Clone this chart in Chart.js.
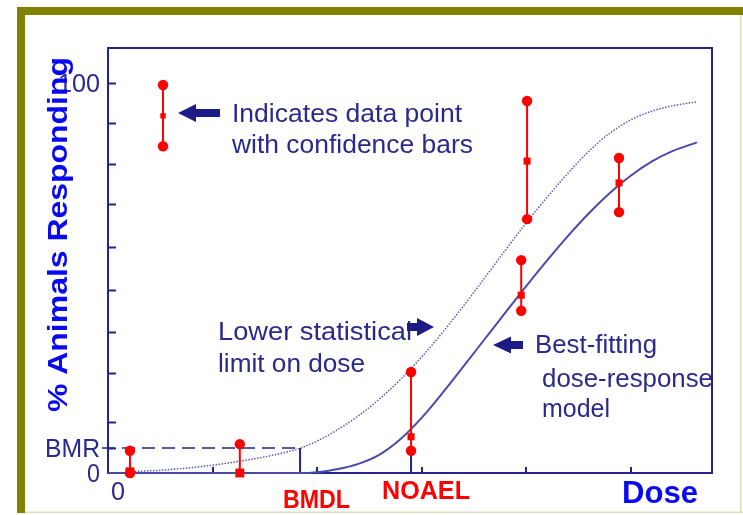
<!DOCTYPE html>
<html>
<head>
<meta charset="utf-8">
<script src="https://cdn.jsdelivr.net/npm/chart.js@4.4.0/dist/chart.umd.min.js"></script>
<style>
  html, body { margin: 0; padding: 0; background: #fff; overflow: hidden; }
  canvas { display: block; }
</style>
</head>
<body>
<canvas id="c" width="743" height="515"></canvas>
<script>
// Observed responses: dose, central estimate and confidence limits (% animals responding)
const doses    = [0.21, 1.26, 2.897, 3.95, 4.006, 4.885];
const respMid  = [0.3, 0, 9.3, 45.6, 80, 74.4];
const respLow  = [0, 0, 5.7, 41.6, 65.1, 66.9];
const respHigh = [5.7, 7.4, 25.9, 54.6, 95.4, 80.8];

// Key sample next to "Indicates data point with confidence bars"
const keyDose = [0.526];
const keyMid  = [91.6];
const keyLow  = [83.8];
const keyHigh = [99.5];

// Best-fitting dose-response model
const fitDose = [0, 1.9, 2.0, 2.2, 2.4, 2.6, 2.8, 3.0, 3.2, 3.4, 3.6, 3.8, 4.0, 4.2, 4.4, 4.6, 4.8, 5.0, 5.2, 5.4, 5.63];
const fitResp = [0, 0, 0.2, 1.0, 2.4, 4.8, 8.8, 14.2, 20.6, 27.4, 34.3, 41.2, 48.0, 54.6, 60.9, 66.7, 71.9, 76.3, 79.9, 82.6, 84.8];

// Lower statistical limit on dose
const limDose = [0.2, 0.6, 1.0, 1.3, 1.6, 1.84, 2.0, 2.2, 2.4, 2.6, 2.8, 3.0, 3.2, 3.4, 3.6, 3.8, 4.0, 4.2, 4.4, 4.6, 4.8, 5.0, 5.2, 5.4, 5.63];
const limResp = [0.3, 0.9, 2.0, 3.2, 4.7, 6.4, 8.2, 11.2, 14.8, 19.1, 24.1, 29.8, 36.1, 42.9, 50.0, 57.2, 64.2, 70.8, 77.0, 82.6, 87.2, 90.6, 92.8, 94.2, 95.2];

// Reference levels
const BMR = 6.4;
const BMDL = 1.836;
const NOAEL = 2.897;

// Axis ticks and labels
const yTicks = [6.4, 13.1, 25.6, 36.2, 46.9, 57.9, 69, 79.2, 89.7, 100];
const yLabelValues = [0, 6.4, 100];
const yLabelTexts  = ['0', 'BMR', '100'];
const xTicks = [1, 2, 3, 4, 5];
const X_MAX = 5.774;
const Y_MAX = 109;

const RED = '#ff0000';
const NAVY = '#24248f';
const TEXT = '#2a2a8c';
const ARROW = '#1c1c86';
const FONT = '"Liberation Sans", Arial, Helvetica, sans-serif';

const pts = (xs, ys) => xs.map((x, i) => ({ x, y: ys[i] }));

function curve(data, color, width, dash, order) {
  return {
    data, showLine: true, borderColor: color, borderWidth: width, borderDash: dash,
    pointRadius: 0, cubicInterpolationMode: 'monotone', fill: false, clip: false, order
  };
}
function bar(x, lo, hi) {
  return {
    data: [{ x, y: lo }, { x, y: hi }], showLine: true, borderColor: RED, borderWidth: 2,
    pointRadius: 0, fill: false, clip: false, order: 2
  };
}

const allDose = doses.concat(keyDose);
const allLow  = respLow.concat(keyLow);
const allMid  = respMid.concat(keyMid);
const allHigh = respHigh.concat(keyHigh);

const circleData = [];
allDose.forEach((d, i) => {
  circleData.push({ x: d, y: allHigh[i] });
  if (allLow[i] < allMid[i]) circleData.push({ x: d, y: allLow[i] });
});
const squareRadius = allDose.map((d, i) => (i < 2 ? 6.3 : (i === allDose.length - 1 ? 3.8 : 5)));

const datasets = [
  {
    data: pts(allDose, allMid), pointStyle: 'rect', pointRadius: squareRadius,
    pointBackgroundColor: RED, pointBorderWidth: 0, showLine: false, clip: false, order: 0
  },
  {
    data: circleData, pointStyle: 'circle', pointRadius: 5.2,
    pointBackgroundColor: RED, pointBorderWidth: 0, showLine: false, clip: false, order: 1
  },
  ...allDose.map((d, i) => bar(d, allLow[i], allHigh[i])),
  curve(pts(fitDose, fitResp), '#4a4aa8', 2, [], 3),
  curve(pts(limDose, limResp), '#5a5ab4', 1.5, [1.5, 1.5], 4)
];

// Draw a string with its left end at (x, y) stretched to a given width
function fitText(ctx, text, x, y, width, font, color) {
  ctx.save();
  ctx.font = font;
  ctx.fillStyle = color;
  ctx.textAlign = 'left';
  ctx.textBaseline = 'alphabetic';
  const m = ctx.measureText(text).width;
  ctx.translate(x, y);
  ctx.scale(width / m, 1);
  ctx.fillText(text, 0, 0);
  ctx.restore();
}

function arrow(ctx, tipX, tailX, cy, headLen, headH, shaftH) {
  const dir = tailX > tipX ? 1 : -1;
  const baseX = tipX + dir * headLen;
  ctx.save();
  ctx.fillStyle = ARROW;
  ctx.beginPath();
  ctx.moveTo(tipX, cy);
  ctx.lineTo(baseX, cy - headH / 2);
  ctx.lineTo(baseX, cy - shaftH / 2);
  ctx.lineTo(tailX, cy - shaftH / 2);
  ctx.lineTo(tailX, cy + shaftH / 2);
  ctx.lineTo(baseX, cy + shaftH / 2);
  ctx.lineTo(baseX, cy + headH / 2);
  ctx.closePath();
  ctx.fill();
  ctx.restore();
}

const decor = {
  id: 'decor',
  beforeDraw(chart) {
    const ctx = chart.ctx;
    ctx.save();
    ctx.fillStyle = '#ffffff';
    ctx.fillRect(0, 0, chart.width, chart.height);
    // olive frame
    ctx.fillStyle = '#818100';
    ctx.fillRect(17, 7, 726, 8);
    ctx.fillRect(17, 7, 8, 506);
    ctx.fillStyle = '#dcdcb8';
    ctx.fillRect(740, 15, 1.5, 498);
    ctx.fillRect(25, 511.5, 718, 1.5);
    ctx.restore();
  },
  beforeDatasetsDraw(chart) {
    const ctx = chart.ctx;
    const xs = chart.scales.x, ys = chart.scales.y;
    const a = chart.chartArea;
    ctx.save();

    // annotation texts
    const body = '26px ' + FONT;
    fitText(ctx, 'Indicates data point', 232, 122, 230, body, TEXT);
    fitText(ctx, 'with confidence bars', 232, 153, 241, body, TEXT);
    fitText(ctx, 'Lower statistical', 218, 340, 194, body, TEXT);
    fitText(ctx, 'limit on dose', 218, 372, 147, body, TEXT);
    fitText(ctx, 'Best-fitting', 535, 353, 122, body, TEXT);
    fitText(ctx, 'dose-response', 542, 387, 171, body, TEXT);
    fitText(ctx, 'model', 542, 417, 68, body, TEXT);

    arrow(ctx, 178, 220, 113, 18, 18, 8);
    arrow(ctx, 434, 407, 327, 17, 18, 8);
    arrow(ctx, 493, 523, 345, 18, 17, 8);

    // y tick labels
    const lab = '25px ' + FONT;
    const yW = { '0': 13, 'BMR': 55, '100': 42 };
    yLabelValues.forEach((v, i) => {
      const t = yLabelTexts[i];
      const py = ys.getPixelForValue(v);
      fitText(ctx, t, a.left - 8 - yW[t], py + 9, yW[t], lab, TEXT);
    });
    // x origin label
    fitText(ctx, '0', xs.getPixelForValue(0) + 3, 500, 14, lab, TEXT);

    // y axis title
    ctx.save();
    ctx.translate(67, 412);
    ctx.rotate(-Math.PI / 2);
    fitText(ctx, '% Animals Responding', 0, 0, 355, 'bold 27px ' + FONT, '#0a0af0');
    ctx.restore();

    // x annotations
    fitText(ctx, 'BMDL', 283, 508, 67, 'bold 25px ' + FONT, RED);
    fitText(ctx, 'NOAEL', 382, 499, 88, 'bold 26px ' + FONT, RED);
    fitText(ctx, 'Dose', 622, 503, 76, 'bold 32px ' + FONT, '#0a0af0');

    // plot box
    ctx.strokeStyle = NAVY;
    ctx.lineWidth = 2;
    ctx.strokeRect(a.left, a.top, a.right - a.left, a.bottom - a.top);

    // inward tick marks
    ctx.beginPath();
    yTicks.forEach(v => {
      const py = Math.round(ys.getPixelForValue(v)) + 0.5;
      ctx.moveTo(a.left, py);
      ctx.lineTo(a.left + 8, py);
    });
    xTicks.forEach(v => {
      const px = Math.round(xs.getPixelForValue(v));
      ctx.moveTo(px, a.bottom);
      ctx.lineTo(px, a.bottom - 6);
    });
    ctx.stroke();

    // BMR level and BMDL / NOAEL markers
    const yB = ys.getPixelForValue(BMR);
    const xB = xs.getPixelForValue(BMDL);
    ctx.lineWidth = 1.6;
    ctx.setLineDash([13, 7]);
    ctx.beginPath();
    ctx.moveTo(a.left - 6, yB);
    ctx.lineTo(xB, yB);
    ctx.stroke();
    ctx.setLineDash([]);
    ctx.lineWidth = 2;
    ctx.beginPath();
    ctx.moveTo(xB, yB);
    ctx.lineTo(xB, a.bottom);
    const xN = xs.getPixelForValue(NOAEL);
    const iN = doses.indexOf(NOAEL);
    ctx.moveTo(xN, ys.getPixelForValue(respLow[iN]));
    ctx.lineTo(xN, a.bottom);
    ctx.stroke();

    ctx.restore();
  }
};

new Chart(document.getElementById('c').getContext('2d'), {
  type: 'scatter',
  data: { datasets },
  options: {
    responsive: false,
    animation: false,
    devicePixelRatio: 1,
    events: [],
    layout: { padding: { left: 108, top: 48, right: 31, bottom: 42 } },
    plugins: { legend: { display: false }, tooltip: { enabled: false } },
    scales: {
      x: { type: 'linear', min: 0, max: X_MAX, display: false },
      y: { type: 'linear', min: 0, max: Y_MAX, display: false }
    }
  },
  plugins: [decor]
});
</script>
</body>
</html>
